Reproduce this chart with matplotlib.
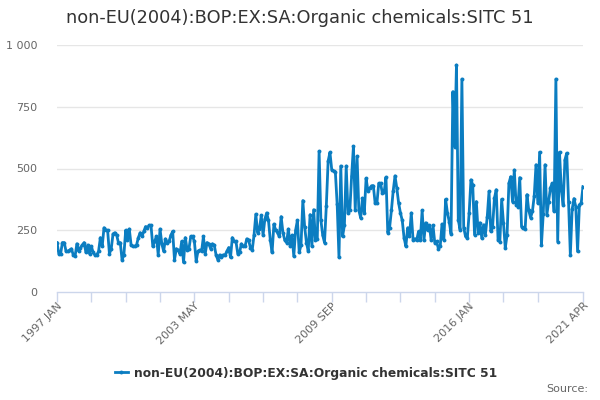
import matplotlib
matplotlib.use("Agg")
import matplotlib.pyplot as plt
from matplotlib.lines import Line2D

title = "non-EU(2004):BOP:EX:SA:Organic chemicals:SITC 51"
series_name = "non-EU(2004):BOP:EX:SA:Organic chemicals:SITC 51"

# Monthly values, 1997 JAN .. 2021 APR
y1997 = [200, 155, 155, 200, 200, 165, 165, 170, 175, 150, 145, 195]
y1998 = [165, 180, 190, 200, 160, 190, 155, 185, 160, 150, 150, 165]
y1999 = [220, 185, 260, 250, 250, 155, 175, 235, 240, 230, 200, 200]
y2000 = [130, 150, 250, 210, 255, 190, 185, 185, 190, 220, 240, 225]
y2001 = [245, 265, 260, 270, 270, 185, 205, 225, 150, 255, 195, 165]
y2002 = [215, 200, 205, 230, 245, 130, 175, 170, 155, 205, 120, 220]
y2003 = [170, 175, 225, 225, 205, 125, 165, 170, 165, 225, 155, 200]
y2004 = [195, 175, 195, 190, 150, 130, 150, 140, 150, 150, 165, 180]
y2005 = [140, 220, 205, 205, 155, 160, 195, 185, 185, 215, 210, 180]
y2006 = [170, 230, 315, 240, 255, 310, 230, 295, 320, 290, 210, 160]
y2007 = [275, 250, 240, 225, 305, 240, 210, 200, 255, 185, 230, 145]
y2008 = [250, 290, 160, 190, 370, 265, 200, 165, 313, 185, 333, 210]
y2009 = [215, 570, 290, 230, 200, 350, 530, 565, 495, 490, 485, 355]
y2010 = [140, 510, 225, 270, 510, 320, 330, 470, 590, 330, 550, 330]
y2011 = [300, 380, 320, 460, 410, 420, 430, 430, 360, 360, 440, 440]
y2012 = [400, 405, 465, 240, 260, 330, 410, 470, 420, 360, 320, 290]
y2013 = [220, 185, 260, 225, 320, 210, 215, 210, 245, 210, 330, 210]
y2014 = [280, 250, 270, 210, 270, 200, 205, 175, 185, 275, 210, 375]
y2015 = [320, 285, 235, 811, 589, 919, 292, 252, 862, 261, 225, 218]
y2016 = [318, 454, 434, 232, 366, 239, 280, 218, 272, 232, 302, 407]
y2017 = [245, 265, 380, 414, 211, 204, 375, 280, 178, 232, 440, 467]
y2018 = [366, 494, 353, 346, 463, 265, 261, 256, 394, 330, 301, 326]
y2019 = [387, 515, 360, 566, 190, 315, 515, 312, 366, 422, 440, 326]
y2020 = [862, 204, 566, 414, 353, 535, 562, 366, 150, 335, 378, 346]
y2021 = [164, 353, 360, 427]

values = (y1997 + y1998 + y1999 + y2000 + y2001 + y2002 + y2003 + y2004 +
          y2005 + y2006 + y2007 + y2008 + y2009 + y2010 + y2011 + y2012 +
          y2013 + y2014 + y2015 + y2016 + y2017 + y2018 + y2019 + y2020 + y2021)
months = list(range(len(values)))

tick_labels = ["1997 JAN", "2003 MAY", "2009 SEP", "2016 JAN", "2021 APR"]
label_pos = [0, 76, 152, 228, 291]
minor_pos = list(range(0, 267, 19)) + [291]
ytick_vals = [0, 250, 500, 750, 1000]
ytick_labels = ["0", "250", "500", "750", "1 000"]

LINE = "#0b7dc1"
GRID = "#e6e6e6"
AXIS = "#ccd6eb"
TXT = "#666666"
DARK = "#333333"

plt.rcParams["font.family"] = ["DejaVu Sans"]
fig = plt.figure(figsize=(6, 4), dpi=100)
ax = fig.add_axes([57 / 600, 1 - 292 / 400, (583 - 57) / 600, (292 - 45) / 400])

ax.plot(months, values, color=LINE, lw=2, marker="o", ms=2.8,
        markeredgewidth=0, solid_joinstyle="round", zorder=3)

ax.set_xlim(0, 291)
ax.set_ylim(0, 1000)
ax.set_yticks(ytick_vals)
ax.set_yticklabels(ytick_labels)
for v in ytick_vals[1:]:
    ax.axhline(v, color=GRID, lw=1, zorder=1)

ax.set_xticks(minor_pos)
ax.set_xticklabels(["" for _ in minor_pos])
ax.tick_params(axis="x", length=7, width=1, color=AXIS, direction="out")
ax.tick_params(axis="y", length=0, labelsize=8, labelcolor=TXT, pad=14)
for p, lab in zip(label_pos, tick_labels):
    ax.text(p, -0.035, lab, transform=ax.get_xaxis_transform(), rotation=45,
            ha="right", va="top", rotation_mode="anchor", fontsize=8, color=TXT)

for s in ["top", "right", "left"]:
    ax.spines[s].set_visible(False)
ax.spines["bottom"].set_color(AXIS)
ax.spines["bottom"].set_linewidth(1)

fig.text(0.5, 1 - 18 / 400, title, ha="center", va="center", fontsize=12.8, color=DARK)

handle = Line2D([0], [0], color=LINE, lw=2, marker="o", ms=2.8, markeredgewidth=0)
fig.legend([handle], [series_name], loc="center", bbox_to_anchor=(0.51, 1 - 373 / 400),
           frameon=False, prop={"size": 8.8, "weight": "bold"}, labelcolor=DARK,
           handlelength=1.1, handletextpad=0.5)

fig.text(588 / 600, 1 - 389 / 400, "Source:", ha="right", va="center", fontsize=8, color=TXT)

fig.savefig("out.png", dpi=100)
